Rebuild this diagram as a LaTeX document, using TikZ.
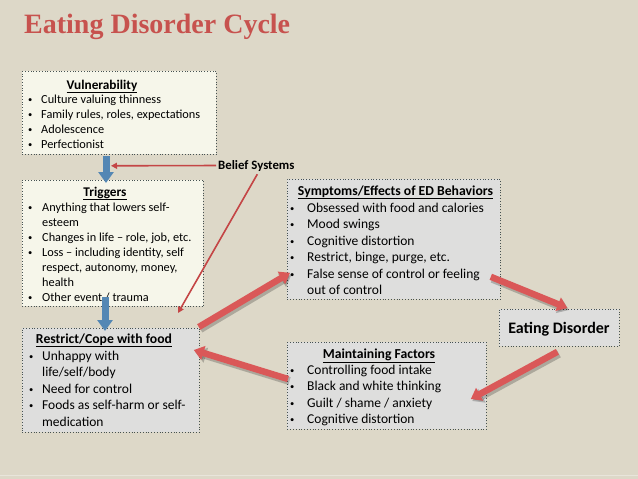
\documentclass[tikz,border=0pt]{standalone}
\usepackage{fontspec}
\setmainfont{Carlito}
\newfontfamily\titlefont{Liberation Serif}
\usetikzlibrary{arrows.meta,calc}
\definecolor{bg}{RGB}{221,216,200}
\definecolor{cream}{RGB}{246,246,234}
\definecolor{lgray}{RGB}{222,222,221}
\definecolor{boxline}{RGB}{70,82,82}
\definecolor{titlered}{RGB}{199,82,78}
\definecolor{arrowred}{RGB}{218,88,88}
\definecolor{thinred}{RGB}{196,70,70}
\definecolor{bluefill}{RGB}{84,135,180}
\newcommand\bul[1][13pt]{\makebox[#1][l]{\raisebox{0.12ex}{\fontsize{8.5}{8.5}\selectfont •}}}
\tikzset{
  box/.style={draw=boxline, dotted, line width=0.8pt, inner sep=0pt, anchor=north west},
  hdrsmall/.style={inner sep=0pt, anchor=base, font=\fontsize{13.3}{15}\selectfont\bfseries},
  hdrbig/.style={inner sep=0pt, anchor=base, font=\fontsize{13.7}{16.5}\selectfont\bfseries},
  listsmall/.style={inner sep=0pt, anchor=base west, font=\fontsize{12.3}{15}\selectfont},
  listbig/.style={inner sep=0pt, anchor=base west, font=\fontsize{13.5}{16.5}\selectfont},
  redshadow/.style={draw=black, opacity=0.22, line width=8pt, -{Triangle[width=15pt,length=11pt]}, transform canvas={shift={(1.5pt,-2pt)}}},
  redarrow/.style={draw=arrowred, line width=6.5pt, -{Triangle[width=14pt,length=10pt]}},
  bluearrow/.style={draw=bluefill, line width=7pt, -{Triangle[width=15pt,length=11pt]}},
  thinarrow/.style={draw=thinred, line width=1.6pt, -{Triangle[width=6pt,length=6pt]}}
}
\begin{document}
\begin{tikzpicture}[x=1pt,y=-1pt]
\fill[bg] (0,0) rectangle (638,479);
\useasboundingbox (0,0) rectangle (638,479);
\draw[white, opacity=0.35, line width=1pt] (0,475.5) -- (638,475.5);

% title
\node[inner sep=0pt, anchor=base west, text=titlered, font=\titlefont\bfseries\fontsize{28}{32}\selectfont] (title) at (24,33) {Eating Disorder Cycle};

% boxes
\node[box, fill=cream, minimum width=194pt, minimum height=83pt] (vul) at (22,71) {};
\node[box, fill=cream, minimum width=181pt, minimum height=126pt] (trig) at (22,180) {};
\node[box, fill=lgray, minimum width=177pt, minimum height=104pt] (rest) at (22,328) {};
\node[box, fill=lgray, minimum width=213pt, minimum height=120pt] (symp) at (287,179) {};
\node[box, fill=lgray, minimum width=199pt, minimum height=87pt] (maint) at (287,342) {};
\node[box, fill=lgray, minimum width=120pt, minimum height=37pt] (ed) at (499,309) {};

% texts
\node[hdrsmall] (vulh) at (102,89) {\underline{Vulnerability}};
\node[listsmall] (vull) at (28,103) {\begin{tabular}[t]{@{}l@{}l@{}}
\bul & Culture valuing thinness\\
\bul & Family rules, roles, expectations\\
\bul & Adolescence\\
\bul & Perfectionist
\end{tabular}};

\node[hdrsmall] (trigh) at (105,196) {\underline{Triggers}};
\node[listsmall] (trigl) at (28,211) {\begin{tabular}[t]{@{}l@{}l@{}}
\bul[14pt] & Anything that lowers self-\\
 & esteem\\
\bul[14pt] & Changes in life – role, job, etc.\\
\bul[14pt] & Loss – including identity, self\\
 & respect, autonomy, money,\\
 & health\\
\bul[14pt] & Other event / trauma
\end{tabular}};

\node[hdrbig] (resth) at (104,343) {\underline{Restrict/Cope with food}};
\node[listbig] (restl) at (29,360) {\begin{tabular}[t]{@{}l@{}l@{}}
\bul & Unhappy with\\
 & life/self/body\\
\bul & Need for control\\
\bul & Foods as self-harm or self-\\
 & medication
\end{tabular}};

\node[hdrbig] (symph) at (395.5,195) {\underline{Symptoms/Effects of ED Behaviors}};
\node[listbig] (sympl) at (290,212) {\begin{tabular}[t]{@{}l@{}l@{}}
\bul[17pt] & Obsessed with food and calories\\
\bul[17pt] & Mood swings\\
\bul[17pt] & Cognitive distortion\\
\bul[17pt] & Restrict, binge, purge, etc.\\
\bul[17pt] & False sense of control or feeling\\
 & out of control
\end{tabular}};

\node[hdrbig] (mainth) at (379,358) {\underline{Maintaining Factors}};
\node[listbig] (maintl) at (290,374) {\begin{tabular}[t]{@{}l@{}l@{}}
\bul[17pt] & Controlling food intake\\
\bul[17pt] & Black and white thinking\\
\bul[17pt] & Guilt / shame / anxiety\\
\bul[17pt] & Cognitive distortion
\end{tabular}};

\node[inner sep=0pt, anchor=base, font=\fontsize{16}{18}\selectfont\bfseries] (edt) at (559,333) {Eating Disorder};

\node[inner sep=0pt, anchor=base west, font=\fontsize{12.8}{14}\selectfont\bfseries] (belief) at (218,169) {Belief Systems};

% blue arrows
\draw[bluearrow] ($(vul.south west)+(84,1)$) -- ($(trig.north west)+(84,3)$);
\draw[bluearrow] ($(trig.south west)+(83,-10)$) -- ($(rest.north west)+(83,3)$);

% thin red arrows
\draw[thinarrow] ($(belief.west)+(-2,0)$) -- ($(vul.south west)+(89,11)$);
\draw[thinarrow] ($(belief.south)+(1,3)$) -- ($(rest.north west)+(156,-15)$);

% thick red arrows with shadow
\draw[redshadow] ($(rest.north east)+(-1,-1)$) -- ($(symp.south west)+(3,-27)$);
\draw[redarrow]  ($(rest.north east)+(-1,-1)$) -- ($(symp.south west)+(3,-27)$);
\draw[redshadow] ($(symp.south east)+(-10,-23)$) -- ($(ed.north)+(8,-1)$);
\draw[redarrow]  ($(symp.south east)+(-10,-23)$) -- ($(ed.north)+(8,-1)$);
\draw[redshadow] ($(ed.south)+(-2,5)$) -- ($(maint.north east)+(-16,57)$);
\draw[redarrow]  ($(ed.south)+(-2,5)$) -- ($(maint.north east)+(-16,57)$);
\draw[redshadow] ($(maint.north west)+(1,37)$) -- ($(rest.north east)+(-6,22)$);
\draw[redarrow]  ($(maint.north west)+(1,37)$) -- ($(rest.north east)+(-6,22)$);
\end{tikzpicture}
\end{document}
